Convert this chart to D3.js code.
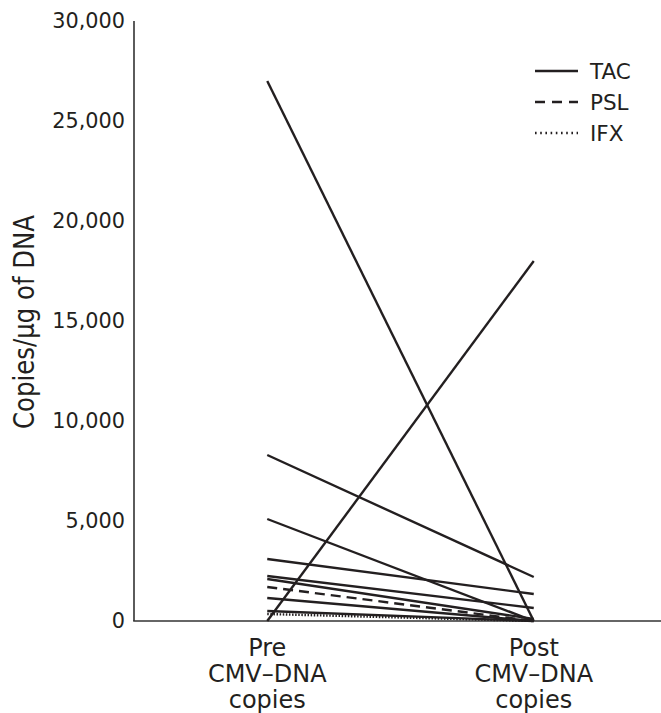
<!DOCTYPE html>
<html><head><meta charset="utf-8">
<script src="https://cdn.jsdelivr.net/npm/d3@7"></script>
<style>body{margin:0;background:#fff}svg{display:block}</style>
</head><body>
<svg id="c" width="661" height="713"></svg>
<script>
const timepoints = ["Pre", "Post"];
const timeLabels = [["Pre","CMV\u2013DNA","copies"],["Post","CMV\u2013DNA","copies"]];
const preValues  = [27000, 0, 8300, 5100, 3100, 2250, 2100, 1700, 1150, 500, 350];
const postValues = [0, 18000, 2200, 0, 1350, 650, 100, 0, 0, 0, 0];
const drugs      = ["TAC","TAC","TAC","TAC","TAC","TAC","TAC","PSL","TAC","TAC","IFX"];
const legendItems = ["TAC","PSL","IFX"];
const yTicks = [0, 5000, 10000, 15000, 20000, 25000, 30000];
const yTitle = "Copies/\u00b5g of DNA";

const ink = "#231f20";
const dash = {TAC: null, PSL: "10,6", IFX: "1.5,1.6"};
const legendDash = {TAC: null, PSL: "10,7", IFX: "1.6,3.6"};

const svg = d3.select("#c");
const y = d3.scaleLinear().domain([0, 30000]).range([621, 21]);
const x = d3.scalePoint().domain(timepoints).range([134, 667]).padding(0.5);

// axes lines
svg.append("line").attr("x1",134).attr("x2",134).attr("y1",y(30000)).attr("y2",y(0))
  .attr("stroke","#333").attr("stroke-width",1.6);
svg.append("line").attr("x1",133.2).attr("x2",661).attr("y1",y(0)).attr("y2",y(0))
  .attr("stroke","#333").attr("stroke-width",1.6);

// y tick labels
const fmt = d3.format(",");
svg.append("g").selectAll("text").data(yTicks).join("text")
  .attr("x",125).attr("y",d=>y(d)).attr("dy","0.36em")
  .attr("text-anchor","end").attr("font-family","DejaVu Sans").attr("font-size",20.8)
  .attr("fill",ink).text(d=>fmt(d));

// y title
svg.append("text").attr("transform","translate(34,322) rotate(-90)")
  .attr("text-anchor","middle").attr("font-family","'Liberation Sans Narrow','DejaVu Sans Condensed',sans-serif")
  .attr("font-size",29).attr("fill",ink)
  .attr("textLength",214).attr("lengthAdjust","spacingAndGlyphs")
  .text(yTitle);

// x labels
timepoints.forEach((t,i)=>{
  const g = svg.append("text").attr("text-anchor","middle").attr("font-family","DejaVu Sans")
    .attr("font-size",24).attr("fill",ink);
  timeLabels[i].forEach((s,j)=>{
    g.append("tspan").attr("x",x(t)).attr("y",656+j*26).text(s);
  });
});

// lines
const data = preValues.map((v,i)=>({pre:v, post:postValues[i], drug:drugs[i]}));
svg.append("g").selectAll("line").data(data).join("line")
  .attr("x1",x("Pre")).attr("x2",x("Post"))
  .attr("y1",d=>y(d.pre)).attr("y2",d=>y(d.post))
  .attr("stroke",ink).attr("stroke-width",2.4)
  .attr("stroke-dasharray",d=>dash[d.drug]);

// legend
const lg = svg.append("g");
legendItems.forEach((k,i)=>{
  const cy = 71 + i*31;
  lg.append("line").attr("x1",535).attr("x2",578).attr("y1",cy).attr("y2",cy)
    .attr("stroke",ink).attr("stroke-width",2.4).attr("stroke-dasharray",legendDash[k]);
  lg.append("text").attr("x",590).attr("y",cy).attr("dy","0.36em")
    .attr("font-family","DejaVu Sans").attr("font-size",21.5).attr("fill",ink).text(k);
});
</script>
</body></html>
